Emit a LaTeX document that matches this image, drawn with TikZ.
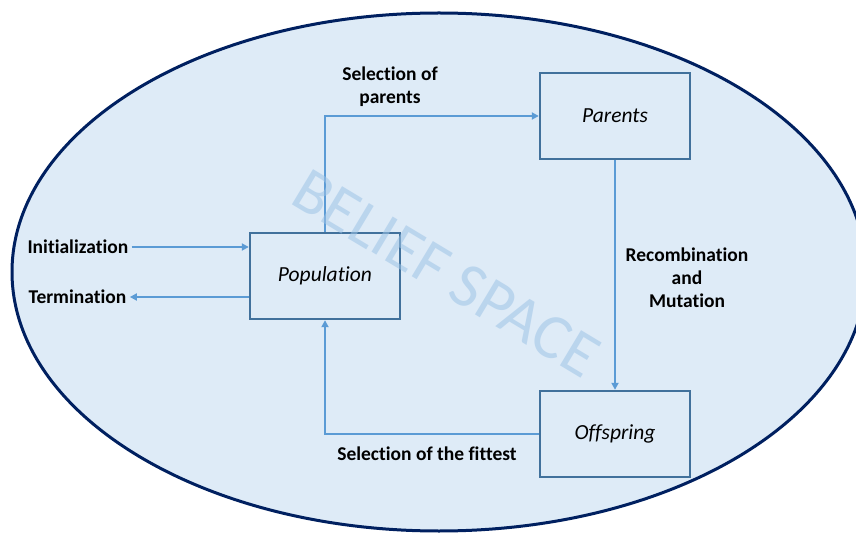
\documentclass[tikz,border=0pt]{standalone}
\usepackage{fontspec}
\setmainfont{Carlito}[Ligatures=NoCommon]
\usetikzlibrary{arrows.meta}

\definecolor{spacefill}{HTML}{DEEBF7}
\definecolor{spaceline}{HTML}{002060}
\definecolor{boxline}{HTML}{41719C}
\definecolor{flowline}{HTML}{5B9BD5}
\definecolor{watermark}{HTML}{9DC3E6}

\begin{document}
\begin{tikzpicture}[x=1pt, y=-1pt,
	box/.style={draw=boxline, line width=2.4pt, fill=spacefill, minimum width=150pt, minimum height=86pt, font=\itshape\fontsize{21.5}{24}\selectfont},
	flow/.style={draw=flowline, line width=2.1pt, -{Triangle[length=7pt, width=7pt]}},
	lbl/.style={font=\bfseries\fontsize{19.5}{23}\selectfont, align=center}]
			%%%%% FRAME %%%%%
			\useasboundingbox (0, 0) rectangle (856, 534);
			\clip (0, 0) rectangle (856, 534);
			
			\draw[draw=spaceline, line width=3pt, fill=spacefill] (439, 272) ellipse [x radius=427, y radius=259];
			
			%%%%% BOXES %%%%%
			\node[box] (pop) at (325, 276) {Population};
			\node[box] (par) at (615, 116) {Parents};
			\node[box] (off) at (615, 434) {Offspring};
			
			%%%%% LABELS %%%%%
			\node[lbl, anchor=west] (init) at (24, 247) {Initialization};
			\node[lbl, anchor=west] (term) at (25, 297) {Termination};
			\node[lbl] (selpar) at (390, 87) {Selection of\\parents};
			\node[lbl] (recomb) at (687, 278) {Recombination\\and\\Mutation};
			\node[lbl] (selfit) at (427, 454) {Selection of the fittest};
			
			%%%%% FLOWS %%%%%
			\draw[flow] (init.east) -- (pop.west |- init.east);
			\draw[flow] (pop.west |- term.east) -- (term.east);
			\draw[flow] (pop.north) |- (par.west);
			\draw[flow] (par.south) -- (off.north);
			\draw[flow] (off.west) -| (pop.south);
			
			\node[rotate=-31, text=watermark, opacity=0.55, font=\fontsize{64}{64}\selectfont] (wm) at (446, 273) {BELIEF SPACE};
			
			%%%%% END %%%%%
\end{tikzpicture}
\end{document}
